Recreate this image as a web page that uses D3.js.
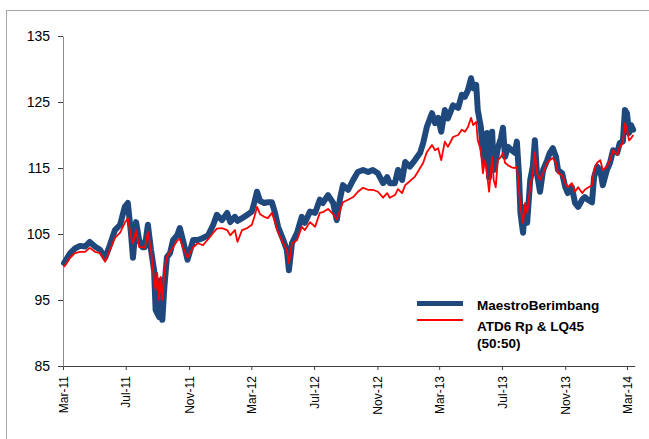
<!DOCTYPE html>
<html><head><meta charset="utf-8">
<script src="https://cdn.jsdelivr.net/npm/d3@7"></script>
<style>body{margin:0;background:#fff}svg{display:block}text{font-family:Arial,"Liberation Sans",sans-serif}</style>
</head><body><svg id="c" width="649" height="439"></svg>
<script>
const dates = ["2011-03-03","2011-03-15","2011-03-24","2011-04-03","2011-04-13","2011-04-22","2011-05-02","2011-05-12","2011-05-22","2011-05-31","2011-06-10","2011-06-20","2011-06-29","2011-07-05","2011-07-11","2011-07-15","2011-07-21","2011-07-27","2011-08-02","2011-08-07","2011-08-13","2011-08-19","2011-08-25","2011-08-28","2011-08-31","2011-09-04","2011-09-07","2011-09-10","2011-09-14","2011-09-19","2011-09-25","2011-10-01","2011-10-09","2011-10-14","2011-10-20","2011-10-29","2011-11-09","2011-11-18","2011-11-28","2011-12-08","2011-12-18","2011-12-25","2012-01-04","2012-01-14","2012-01-20","2012-01-29","2012-02-03","2012-02-12","2012-02-22","2012-03-02","2012-03-07","2012-03-12","2012-03-18","2012-03-26","2012-04-02","2012-04-10","2012-04-16","2012-04-22","2012-05-02","2012-05-09","2012-05-13","2012-05-19","2012-05-29","2012-06-07","2012-06-13","2012-06-23","2012-07-03","2012-07-12","2012-07-18","2012-07-28","2012-08-07","2012-08-14","2012-08-20","2012-08-26","2012-09-05","2012-09-15","2012-09-24","2012-10-04","2012-10-14","2012-10-23","2012-11-02","2012-11-12","2012-11-20","2012-11-25","2012-12-05","2012-12-11","2012-12-19","2012-12-25","2013-01-03","2013-01-13","2013-01-23","2013-01-29","2013-02-05","2013-02-15","2013-02-21","2013-02-27","2013-03-05","2013-03-12","2013-03-18","2013-03-28","2013-04-07","2013-04-14","2013-04-20","2013-04-26","2013-05-02","2013-05-06","2013-05-12","2013-05-15","2013-05-21","2013-05-25","2013-05-29","2013-06-02","2013-06-06","2013-06-12","2013-06-15","2013-06-19","2013-06-23","2013-06-29","2013-07-03","2013-07-07","2013-07-13","2013-07-20","2013-07-26","2013-07-30","2013-08-03","2013-08-06","2013-08-11","2013-08-15","2013-08-19","2013-08-25","2013-08-30","2013-09-03","2013-09-07","2013-09-13","2013-09-19","2013-09-27","2013-10-02","2013-10-08","2013-10-14","2013-10-18","2013-10-26","2013-11-01","2013-11-06","2013-11-14","2013-11-20","2013-11-26","2013-12-04","2013-12-09","2013-12-15","2013-12-23","2013-12-27","2014-01-02","2014-01-08","2014-01-13","2014-01-21","2014-01-27","2014-02-02","2014-02-10","2014-02-15","2014-02-21","2014-02-25","2014-03-01","2014-03-05","2014-03-09","2014-03-13"];
const maestro = [100.6,102.1,102.8,103.2,103.1,103.8,103.1,102.6,101.4,103.3,105.6,106.4,109.1,109.7,105.2,101.4,106.8,104.1,103.0,103.0,106.4,102.6,99.5,93.5,93.0,92.4,98.0,92.0,97.0,101.5,102.1,104.1,104.8,105.9,104.1,101.1,104.1,104.1,104.4,104.8,106.4,107.9,107.1,108.2,106.8,107.6,107.0,107.4,107.9,108.4,109.8,111.4,110.0,109.7,109.8,109.8,108.2,106.1,104.1,102.6,99.5,103.6,105.2,107.6,106.7,108.4,108.2,110.2,109.7,110.9,109.7,107.1,110.2,112.4,111.7,113.2,114.4,114.7,114.4,114.7,114.2,112.7,113.6,112.7,112.7,114.7,113.2,115.9,115.2,116.2,117.3,118.8,121.2,123.3,121.8,122.6,120.5,123.8,122.5,124.5,124.1,126.1,125.8,126.8,128.6,127.1,127.6,123.8,121.2,117.3,115.8,120.3,113.6,120.5,114.7,116.0,118.0,119.5,121.1,116.7,118.2,117.7,117.3,119.0,114.2,108.2,105.2,109.1,106.7,113.2,115.2,119.2,114.2,111.4,114.7,116.2,117.3,118.0,116.7,114.7,114.2,112.1,111.2,112.1,109.7,109.1,110.2,110.6,110.2,109.8,113.6,115.2,114.7,112.4,114.7,115.8,117.7,117.3,118.8,119.0,123.8,123.3,120.3,121.5,120.8];
const benchmark = [100.0,101.4,102.1,102.3,102.3,102.9,102.3,102.1,100.8,102.6,104.4,105.2,106.7,107.4,104.6,103.6,105.6,103.0,103.0,102.9,105.3,102.6,98.0,96.5,99.1,95.0,98.5,95.0,99.5,101.5,102.3,103.0,104.0,104.3,103.0,101.4,103.0,103.6,103.3,104.2,105.2,105.8,105.9,105.6,104.8,105.6,103.8,105.6,105.9,106.4,107.6,109.1,108.0,107.6,107.4,108.2,106.8,105.2,103.6,102.6,100.6,103.6,104.1,106.1,105.6,106.8,106.1,108.2,108.3,108.8,108.0,107.2,108.5,109.8,110.2,110.6,111.4,112.0,111.7,111.7,111.4,110.5,111.2,110.5,110.9,111.8,111.2,112.4,113.0,113.7,115.0,115.8,117.4,118.5,117.7,118.0,116.2,119.0,118.2,119.7,120.0,120.8,120.5,121.2,122.6,121.5,122.0,119.2,117.7,114.2,116.2,114.2,111.4,116.7,113.2,112.1,116.2,116.7,117.3,115.8,115.4,115.1,115.0,115.2,112.1,109.1,106.7,109.7,108.2,112.1,114.2,117.4,114.2,113.2,114.2,115.8,116.2,116.5,115.8,114.2,113.9,112.7,112.1,112.7,111.4,112.1,111.2,111.7,112.0,112.4,114.7,115.8,116.2,114.7,115.2,116.2,117.7,117.0,118.2,118.8,121.8,120.8,119.2,119.5,120.0];
const yTicks = [85,95,105,115,125,135];
const xTicks = ["2011-03-01","2011-07-01","2011-11-01","2012-03-01","2012-07-01","2012-11-01","2013-03-01","2013-07-01","2013-11-01","2014-03-01"];
const seriesNames = ["MaestroBerimbang","ATD6 Rp & LQ45","(50:50)"];

const parse = d3.timeParse("%Y-%m-%d");
const svg = d3.select("#c");
svg.append("rect").attr("x",6.5).attr("y",10.5).attr("width",700).attr("height",500)
  .attr("fill","none").attr("stroke","#a6a6a6").attr("stroke-width",1);

const x = d3.scaleTime().domain([parse("2011-03-01"), parse("2014-03-16")]).range([63, 634.7]);
const y = d3.scaleLinear().domain([85,135]).range([366,36]);

const xAxis = d3.axisBottom(x).tickValues(xTicks.map(parse))
  .tickFormat(d3.timeFormat("%b-%y")).tickSize(4).tickSizeOuter(0);
const gx = svg.append("g").attr("transform","translate(0,366)").call(xAxis);
gx.select(".domain").attr("stroke","#404040");
gx.selectAll(".tick line").attr("stroke","#404040");
gx.selectAll("text").attr("font-size","12px").attr("fill","#000")
  .attr("transform","rotate(-90)").attr("text-anchor","end").attr("x",-10).attr("y",0).attr("dy","0.35em");

const yAxis = d3.axisLeft(y).tickValues(yTicks).tickSize(5).tickSizeOuter(0).tickPadding(8);
const gy = svg.append("g").attr("transform","translate(63,0)").call(yAxis);
gy.select(".domain").attr("stroke","#8c8c8c");
gy.selectAll(".tick line").attr("stroke","#404040");
gy.selectAll("text").attr("font-size","14px").attr("fill","#000");

const line = (vals) => d3.line().x((d,i)=>x(parse(dates[i]))).y(d=>y(d))(vals);
svg.append("path").attr("d",line(maestro)).attr("fill","none").attr("stroke","#1f497d")
  .attr("stroke-width",6).attr("stroke-linejoin","round").attr("stroke-linecap","round");
svg.append("path").attr("d",line(benchmark)).attr("fill","none").attr("stroke","#ff0000")
  .attr("stroke-width",1.8).attr("stroke-linejoin","round");

const lg = svg.append("g");
lg.append("line").attr("x1",417).attr("x2",463).attr("y1",303.5).attr("y2",303.5).attr("stroke","#1f497d").attr("stroke-width",5);
lg.append("line").attr("x1",417).attr("x2",463).attr("y1",320).attr("y2",320).attr("stroke","#ff0000").attr("stroke-width",2);
lg.append("text").attr("x",477).attr("y",310).attr("font-size","13.5px").attr("font-weight","bold").text(seriesNames[0]);
lg.append("text").attr("x",477).attr("y",331).attr("font-size","13.5px").attr("font-weight","bold").text(seriesNames[1]);
lg.append("text").attr("x",477).attr("y",348).attr("font-size","13.5px").attr("font-weight","bold").text(seriesNames[2]);
</script></body></html>
